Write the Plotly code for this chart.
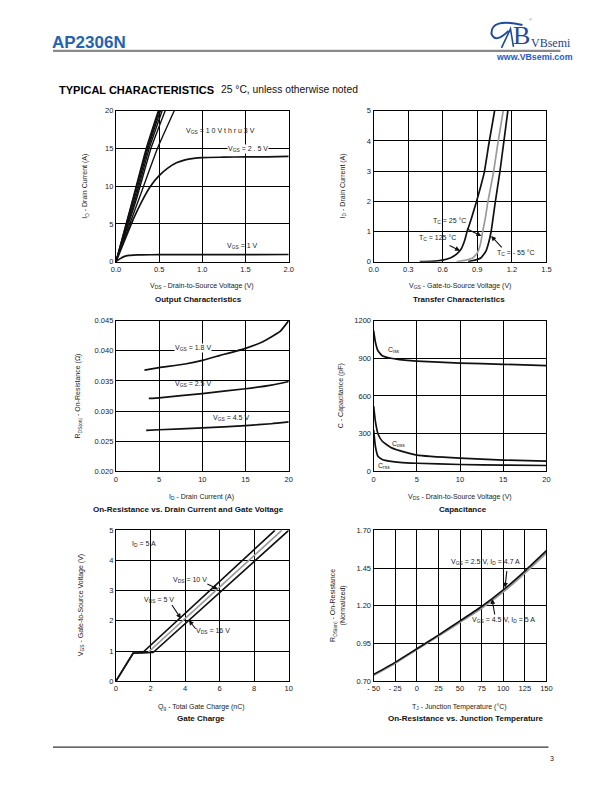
import plotly.graph_objects as go

# ---------------------------------------------------------------------------
# Data
# ---------------------------------------------------------------------------

# Output characteristics (VDS in V, ID in A)
out_vds_10v = [0, 0.20, 0.35, 0.49]
out_id_10v = [0, 8.5, 15, 20]
out_vds_45v = [0, 0.20, 0.36, 0.50]
out_id_45v = [0, 8.3, 15, 20]
out_vds_4v = [0, 0.21, 0.37, 0.515]
out_id_4v = [0, 8.2, 15, 20]
out_vds_35v = [0, 0.22, 0.385, 0.535]
out_id_35v = [0, 8.1, 15, 20]
out_vds_3v = [0, 0.23, 0.405, 0.57]
out_id_3v = [0, 8.0, 15, 20]
out_vds_28v = [0, 0.25, 0.48, 0.675]
out_id_28v = [0, 7.8, 15, 20]
out_vds_25v = [0, 0.1, 0.2, 0.3, 0.4, 0.5, 0.6, 0.7, 0.8, 0.9, 1.0, 1.25, 1.5, 1.75, 2.0]
out_id_25v = [0, 2.8, 5.6, 8.0, 10.0, 11.4, 12.4, 13.1, 13.5, 13.7, 13.8, 13.85, 13.9, 13.9, 13.95]
out_vds_1v = [0, 0.05, 0.1, 0.15, 0.2, 0.3, 0.5, 1.0, 1.5, 2.0]
out_id_1v = [0, 0.4, 0.7, 0.82, 0.87, 0.9, 0.92, 0.93, 0.94, 0.95]

# Transfer characteristics (VGS in V, ID in A)
tr_vgs_125 = [0.40, 0.50, 0.60, 0.67, 0.72, 0.76, 0.79, 0.81, 0.85, 0.89, 0.93, 0.96, 1.00, 1.05]
tr_id_125 = [0, 0.01, 0.05, 0.13, 0.25, 0.42, 0.70, 0.98, 1.45, 1.95, 2.50, 2.95, 3.90, 5.0]
tr_vgs_25 = [0.72, 0.80, 0.86, 0.90, 0.925, 0.945, 0.97, 0.99, 1.04, 1.08, 1.125]
tr_id_25 = [0, 0.05, 0.12, 0.29, 0.55, 0.96, 1.45, 1.95, 2.95, 3.97, 5.0]
tr_vgs_m55 = [0.82, 0.88, 0.93, 0.975, 1.0, 1.02, 1.055, 1.095, 1.13, 1.165]
tr_id_m55 = [0, 0.05, 0.12, 0.35, 0.65, 1.0, 1.95, 2.95, 3.97, 5.0]

# On-resistance vs drain current (ID in A, RDS(on) in ohm)
ron_id_18v = [3.3, 5, 8, 10, 12, 15, 17, 19, 20]
ron_r_18v = [0.0368, 0.0372, 0.0378, 0.0384, 0.0392, 0.0404, 0.0415, 0.0432, 0.0450]
ron_id_25v = [3.8, 5, 10, 15, 18, 20]
ron_r_25v = [0.0321, 0.0322, 0.0329, 0.0337, 0.0343, 0.0349]
ron_id_45v = [3.5, 5, 10, 15, 18, 20]
ron_r_45v = [0.0268, 0.0269, 0.0272, 0.0276, 0.0279, 0.0282]

# Capacitance (VDS in V, C in pF)
cap_vds = [0, 0.2, 0.5, 1, 2, 3, 5, 10, 15, 20]
cap_ciss = [1120, 1030, 960, 920, 900, 890, 878, 862, 852, 842]
cap_coss = [520, 400, 300, 240, 190, 165, 130, 105, 90, 82]
cap_crss = [330, 200, 120, 95, 80, 72, 65, 55, 50, 47]

# Gate charge (Qg in nC, VGS in V)
gc_qg_5v = [0, 1.0, 1.55, 9.2]
gc_vgs_5v = [0, 0.93, 0.95, 5.0]
gc_qg_10v = [0, 1.0, 1.85, 9.6]
gc_vgs_10v = [0, 0.93, 0.95, 5.0]
gc_qg_16v = [0, 1.0, 2.15, 10.0]
gc_vgs_16v = [0, 0.93, 0.95, 5.0]

# On-resistance vs junction temperature (TJ in degC, normalized RDS(on))
rt_tj = [-50, -25, 0, 25, 50, 75, 100, 125, 150]
rt_r_25v = [0.745, 0.825, 0.915, 1.005, 1.10, 1.195, 1.305, 1.43, 1.565]
rt_r_45v = [0.740, 0.820, 0.912, 1.000, 1.092, 1.185, 1.293, 1.418, 1.552]

temp_ticks = [-50, -25, 0, 25, 50, 75, 100, 125, 150]
temp_ticktext = ["- 50", "- 25", "0", "25", "50", "75", "100", "125", "150"]

# ---------------------------------------------------------------------------
# Everything below is placed in page pixels (612x792 sheet).  The figure does
# not land exactly at the page origin in the screenshot, so page pixels are
# mapped through the offset / scale measured on a previous render.
W, H = 596, 776
SX, AX = 0.981, 13.2
SY, AY = 0.9895, 11.2
FONT = "Liberation Sans, Arial, sans-serif"
BLACK = "#111111"
GREY = "#9a9a9a"


def px(x):
    return (x / SX - AX) / W


def py(y):
    return 1 - (y / SY - AY) / H


fig = go.Figure()


def line(x, y, n, color=BLACK, width=1.7):
    fig.add_trace(go.Scatter(x=x, y=y, mode="lines", xaxis="x" + n, yaxis="y" + n,
                             line=dict(color=color, width=width, shape="spline", smoothing=0.4),
                             showlegend=False, hoverinfo="skip"))


def straight(x, y, n, color=BLACK, width=1.7):
    fig.add_trace(go.Scatter(x=x, y=y, mode="lines", xaxis="x" + n, yaxis="y" + n,
                             line=dict(color=color, width=width),
                             showlegend=False, hoverinfo="skip"))


# plot 1
for xs, ys in [(out_vds_10v, out_id_10v), (out_vds_45v, out_id_45v), (out_vds_4v, out_id_4v),
               (out_vds_35v, out_id_35v), (out_vds_3v, out_id_3v), (out_vds_28v, out_id_28v)]:
    line(xs, ys, "", width=1.4)
line(out_vds_25v, out_id_25v, "")
line(out_vds_1v, out_id_1v, "")

# plot 2
line(tr_vgs_125, tr_id_125, "2")
line(tr_vgs_25, tr_id_25, "2", color=GREY)
line(tr_vgs_m55, tr_id_m55, "2")

# plot 3
line(ron_id_18v, ron_r_18v, "3")
line(ron_id_25v, ron_r_25v, "3")
line(ron_id_45v, ron_r_45v, "3")

# plot 4
line(cap_vds, cap_ciss, "4")
line(cap_vds, cap_coss, "4")
line(cap_vds, cap_crss, "4")

# plot 5
straight(gc_qg_5v, gc_vgs_5v, "5")
straight(gc_qg_10v, gc_vgs_10v, "5", color=GREY)
straight(gc_qg_16v, gc_vgs_16v, "5")

# plot 6
line(rt_tj, rt_r_45v, "6", color=GREY, width=2.2)
line(rt_tj, rt_r_25v, "6", width=1.6)

# ---------------------------------------------------------------------------
# axes
LEFT = [px(115), px(288)]
RIGHT = [px(373), px(546)]
ROW1 = [py(261), py(110)]
ROW2 = [py(471), py(320)]
ROW3 = [py(681), py(530)]

tickfont = dict(family=FONT, size=7.5, color="#222222")


def axis(domain, rng, anchor, **kw):
    d = dict(domain=domain, range=rng, anchor=anchor, showgrid=True, gridcolor="black",
             gridwidth=1, showline=True, mirror=True, linecolor="black", linewidth=1.2,
             zeroline=False, ticks="", tickfont=tickfont, fixedrange=True)
    d.update(kw)
    return d


fig.update_layout(
    xaxis=axis(LEFT, [0, 2], "y", dtick=0.5, tickformat=".1f"),
    yaxis=axis(ROW1, [0, 20], "x", dtick=5),
    xaxis2=axis(RIGHT, [0, 1.5], "y2", dtick=0.3, tickformat=".1f"),
    yaxis2=axis(ROW1, [0, 5], "x2", dtick=1),
    xaxis3=axis(LEFT, [0, 20], "y3", dtick=5),
    yaxis3=axis(ROW2, [0.020, 0.045], "x3", dtick=0.005, tickformat=".3f"),
    xaxis4=axis(RIGHT, [0, 20], "y4", dtick=5),
    yaxis4=axis(ROW2, [0, 1200], "x4", dtick=300),
    xaxis5=axis(LEFT, [0, 10], "y5", dtick=2),
    yaxis5=axis(ROW3, [0, 5], "x5", dtick=1),
    xaxis6=axis(RIGHT, [-50, 150], "y6", tickvals=temp_ticks, ticktext=temp_ticktext),
    yaxis6=axis(ROW3, [0.70, 1.70], "x6", tick0=0.70, dtick=0.25, tickformat=".2f"),
)

# ---------------------------------------------------------------------------
# annotations
ann = []


def ptext(x, y, text, size=7, bold=False, angle=0, color="#222222", anchor="center", family=FONT):
    if bold:
        text = "<b>" + text + "</b>"
    ann.append(dict(x=px(x), y=py(y), xref="paper", yref="paper", text=text, showarrow=False,
                    textangle=angle, xanchor=anchor, yanchor="middle",
                    font=dict(family=family, size=size, color=color)))


def dtext(n, x, y, text, bg=None):
    a = dict(x=x, y=y, xref="x" + n, yref="y" + n, text=text, showarrow=False,
             font=dict(family=FONT, size=7, color="#222222"), xanchor="center", yanchor="middle")
    if bg:
        a["bgcolor"] = bg
        a["borderpad"] = 0
    ann.append(a)


def arrow(n, x, y, ax, ay):
    ann.append(dict(x=x, y=y, xref="x" + n, yref="y" + n, text="", showarrow=True, ax=ax, ay=ay,
                    arrowhead=2, arrowsize=0.9, arrowwidth=1.1, arrowcolor=BLACK))


# axis titles and chart titles
ptext(84, 185, "I<sub>D</sub> - Drain Current (A)", angle=-90)
ptext(201, 285, "V<sub>DS</sub> - Drain-to-Source Voltage (V)")
ptext(198, 299, "Output Characteristics", size=8, bold=True, color="#111111")

ptext(342, 185, "I<sub>D</sub> - Drain Current (A)", angle=-90)
ptext(459, 285, "V<sub>GS</sub> - Gate-to-Source Voltage (V)")
ptext(458, 299, "Transfer Characteristics", size=8, bold=True, color="#111111")

ptext(78, 395, "R<sub>DS(on)</sub> - On-Resistance (Ω)", angle=-90)
ptext(201, 497, "I<sub>D</sub> - Drain Current (A)")
ptext(188, 509, "On-Resistance vs. Drain Current and Gate Voltage", size=8, bold=True, color="#111111")

ptext(341, 395, "C - Capacitance (pF)", angle=-90)
ptext(459, 497, "V<sub>DS</sub> - Drain-to-Source Voltage (V)")
ptext(462, 509, "Capacitance", size=8, bold=True, color="#111111")

ptext(80, 605, "V<sub>GS</sub> - Gate-to-Source Voltage (V)", angle=-90)
ptext(201, 707, "Q<sub>g</sub> - Total Gate Charge (nC)")
ptext(200, 718, "Gate Charge", size=8, bold=True, color="#111111")

ptext(337, 605, "R<sub>DS(on)</sub> - On-Resistance<br>(Normalized)", angle=-90)
ptext(459, 707, "T<sub>J</sub> - Junction Temperature (°C)")
ptext(465, 718, "On-Resistance vs. Junction Temperature", size=8, bold=True, color="#111111")

# in-plot labels
dtext("", 1.21, 17.3, "V<sub>GS</sub> = 1 0 V t h r u 3 V")
dtext("", 1.53, 15.0, "V<sub>GS</sub> = 2 . 5 V", bg="white")
dtext("", 1.46, 2.1, "V<sub>GS</sub> = 1 V")

dtext("2", 0.66, 1.36, "T<sub>C</sub> = 25 °C")
dtext("2", 0.555, 0.80, "T<sub>C</sub> = 125 °C")
dtext("2", 1.24, 0.27, "T<sub>C</sub> = - 55 °C")
arrow("2", 0.935, 0.85, -16, -8)
arrow("2", 0.75, 0.36, -12, -6)
arrow("2", 1.02, 0.85, 12, 13)

dtext("3", 8.95, 0.0404, "V<sub>GS</sub> = 1.8 V", bg="white")
dtext("3", 8.9, 0.0345, "V<sub>GS</sub> = 2.5 V")
dtext("3", 13.35, 0.0288, "V<sub>GS</sub> = 4.5 V")

dtext("4", 2.35, 962, "C<sub>iss</sub>")
dtext("4", 2.9, 220, "C<sub>oss</sub>")
dtext("4", 1.16, 40, "C<sub>rss</sub>")

dtext("5", 1.6, 4.54, "I<sub>D</sub> = 5 A")
dtext("5", 4.28, 3.34, "V<sub>DS</sub> = 10 V")
dtext("5", 2.51, 2.68, "V<sub>DS</sub> = 5 V")
dtext("5", 5.6, 1.66, "V<sub>DS</sub> = 16 V")
arrow("5", 5.9, 3.05, -12, -6)
arrow("5", 3.76, 2.08, -10, -15)
arrow("5", 4.22, 2.02, 8, 10)

dtext("6", 80, 1.488, "V<sub>GS</sub> = 2.5 V, I<sub>D</sub> = 4.7 A")
dtext("6", 100.3, 1.104, "V<sub>GS</sub> = 4.5 V, I<sub>D</sub> = 5 A")
arrow("6", 102, 1.32, 2, -18)
arrow("6", 87, 1.245, 3, 17)

# page header / footer
ptext(49, 42, "AP2306N", size=17, bold=True, color="#2563b0", anchor="left")
ptext(56, 89, "TYPICAL CHARACTERISTICS", size=11, bold=True, color="#000000", anchor="left")
ptext(218, 89, "25 °C, unless otherwise noted", size=10.3, color="#111111", anchor="left")
ptext(551, 42, "VBsemi", size=12, color="#1d3f8c", family="Liberation Serif, serif")
ptext(534, 56, "www.VBsemi.com", size=8.8, bold=True, color="#1f5cc4")
ptext(521, 35, "B", size=26, color="#1d4b9c", family="Liberation Serif, serif")
ptext(530, 19, "®", size=4, color="#666666")
ptext(552, 758, "3", size=7, color="#222222")

shapes = [
    dict(type="line", xref="paper", yref="paper", x0=px(52), x1=px(560), y0=py(50), y1=py(50),
         line=dict(color="#8a8a8a", width=2.2)),
    dict(type="line", xref="paper", yref="paper", x0=px(52), x1=px(548), y0=py(747), y1=py(747),
         line=dict(color="#000000", width=1)),
]


def pth(points):
    return "M " + " L ".join("%.5f,%.5f" % (px(a), py(b)) for a, b in points)


# logo swoosh (rough)
shapes.append(dict(type="path", xref="paper", yref="paper",
                   path="M %.5f,%.5f Q %.5f,%.5f %.5f,%.5f Q %.5f,%.5f %.5f,%.5f" % (
                       px(522), py(24), px(490), py(17), px(491), py(33),
                       px(495), py(43), px(508), py(30)),
                   line=dict(color="#1d4b9c", width=2)))
shapes.append(dict(type="path", xref="paper", yref="paper",
                   path=pth([(501, 47), (510, 28), (513, 46)]),
                   line=dict(color="#1d4b9c", width=1.6)))

fig.update_layout(
    width=W, height=H, margin=dict(l=0, r=0, t=0, b=0),
    paper_bgcolor="white", plot_bgcolor="white",
    annotations=ann, shapes=shapes, showlegend=False,
)

fig.write_html("out.html")
